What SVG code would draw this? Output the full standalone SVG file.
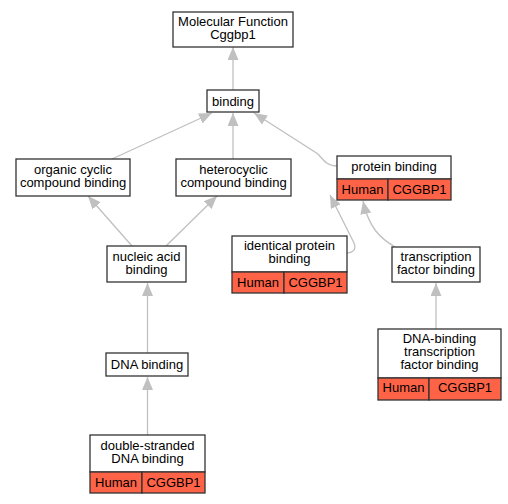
<svg xmlns="http://www.w3.org/2000/svg" width="508" height="504" viewBox="0 0 508 504">
<style>
text{font-family:"Liberation Sans",Arial,sans-serif;font-size:13px;fill:#000;text-anchor:middle}
.box{fill:#fff;stroke:#333;stroke-width:1.3}
.hit{fill:#ff6347;stroke:#333;stroke-width:1.3}
.edge{fill:none;stroke:#c0c0c0;stroke-width:1.3;marker-end:url(#ah)}
</style>
<defs>
<marker id="ah" markerUnits="userSpaceOnUse" markerWidth="14" markerHeight="12" refX="13" refY="5.5" orient="auto">
<path d="M0,0 L13,5.5 L0,11 z" fill="#c0c0c0"/>
</marker>
</defs>
<rect width="508" height="504" fill="#fff"/>
<g id="edges">
<path class="edge" d="M233,90 L233,47"/>
<path class="edge" d="M112,159 L212,113"/>
<path class="edge" d="M233,159 L233,113"/>
<path class="edge" d="M337,166 C328,166 325,162 318,154 L254,113"/>
<path class="edge" d="M132,246 L88,196"/>
<path class="edge" d="M166,246 L217,196"/>
<path class="edge" d="M347,253 C352,253 357,250 354,243 L330,195"/>
<path class="edge" d="M395,247 C380,238 369,228 363,201"/>
<path class="edge" d="M436,329 L436,283"/>
<path class="edge" d="M147.5,353 L147.5,283"/>
<path class="edge" d="M147.5,435 L147.5,377"/>
</g>
<g id="mf">
<rect class="box" x="173" y="12" width="120" height="35"/>
<text x="233" y="26">Molecular Function<tspan x="233" dy="13">Cggbp1</tspan></text>
</g>
<g id="binding">
<rect class="box" x="207" y="90" width="52" height="22"/>
<text x="233" y="105.5">binding</text>
</g>
<g id="organic">
<rect class="box" x="16" y="159" width="114" height="37"/>
<text x="73" y="174">organic cyclic<tspan x="73" dy="13">compound binding</tspan></text>
</g>
<g id="hetero">
<rect class="box" x="176" y="159" width="115" height="37"/>
<text x="233.5" y="174">heterocyclic<tspan x="233.5" dy="13">compound binding</tspan></text>
</g>
<g id="protein">
<rect class="box" x="337" y="156" width="114" height="23"/>
<rect class="hit" x="337" y="179" width="51" height="21"/>
<rect class="hit" x="388" y="179" width="63" height="21"/>
<text x="394" y="171">protein binding</text>
<text x="362.5" y="193.5">Human</text>
<text x="419.5" y="193.5">CGGBP1</text>
</g>
<g id="identical">
<rect class="box" x="232" y="236" width="115" height="36"/>
<rect class="hit" x="232" y="272" width="52" height="21"/>
<rect class="hit" x="284" y="272" width="63" height="21"/>
<text x="289.5" y="250">identical protein<tspan x="289.5" dy="13">binding</tspan></text>
<text x="258" y="286.5">Human</text>
<text x="315.5" y="286.5">CGGBP1</text>
</g>
<g id="nucleic">
<rect class="box" x="107" y="246" width="79" height="36"/>
<text x="146.5" y="261">nucleic acid<tspan x="146.5" dy="13">binding</tspan></text>
</g>
<g id="tfbinding">
<rect class="box" x="392" y="247" width="88" height="35"/>
<text x="436" y="261">transcription<tspan x="436" dy="13">factor binding</tspan></text>
</g>
<g id="dna">
<rect class="box" x="106" y="353" width="82" height="23"/>
<text x="147" y="369">DNA binding</text>
</g>
<g id="dbtf">
<rect class="box" x="378" y="329" width="123" height="49"/>
<rect class="hit" x="378" y="378" width="51" height="22"/>
<rect class="hit" x="429" y="378" width="72" height="22"/>
<text x="439.5" y="343">DNA-binding<tspan x="439.5" dy="13">transcription</tspan><tspan x="439.5" dy="13">factor binding</tspan></text>
<text x="403.5" y="392">Human</text>
<text x="465" y="392">CGGBP1</text>
</g>
<g id="dsdna">
<rect class="box" x="90" y="435" width="115" height="37"/>
<rect class="hit" x="90" y="472" width="52" height="21"/>
<rect class="hit" x="142" y="472" width="63" height="21"/>
<text x="147.5" y="450">double-stranded<tspan x="147.5" dy="13">DNA binding</tspan></text>
<text x="116" y="486.5">Human</text>
<text x="173.5" y="486.5">CGGBP1</text>
</g>
</svg>
